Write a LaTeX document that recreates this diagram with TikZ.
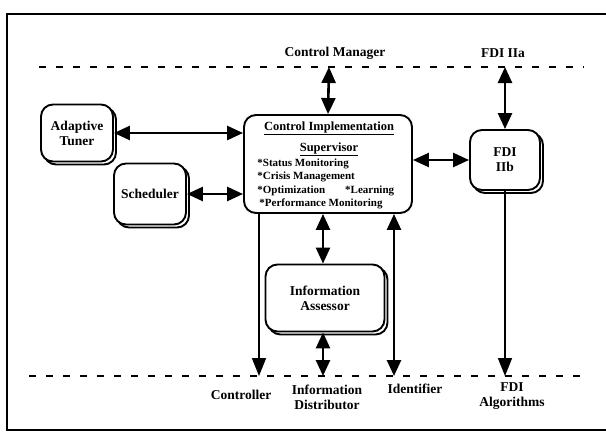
\documentclass[tikz,border=0pt]{standalone}
\usepackage{fontspec}
\setmainfont{Liberation Serif}
\usetikzlibrary{arrows.meta,positioning,shadows}
\begin{document}
\begin{tikzpicture}[x=1pt,y=-1pt,thick,
        font=\fontsize{13.5}{15}\selectfont\bfseries,
        box node/.style={draw,line width=1.9pt,rounded corners=12pt,fill=white,align=center,inner sep=2pt},
        shadow node/.style={box node,copy shadow={shadow xshift=3pt,shadow yshift=-3pt}},
        lab node/.style={align=center,inner sep=1pt},
        both/.style={{Triangle[length=16pt,width=14pt]}-{Triangle[length=16pt,width=14pt]},line width=2.6pt},
        one/.style={-{Triangle[length=18pt,width=14pt]},line width=1.7pt},
        dash line/.style={line width=2.8pt,dash pattern=on 7pt off 10pt}]

    \useasboundingbox (0,0) rectangle (606,434);
    \draw[line width=1.5pt] (606,14) -- (7,14) -- (7,430) -- (606,430);

    % levels
    \draw[dash line] (39,67) -- (584,67);
    \draw[dash line] (29,376) -- (584,376);

    \node[lab node] (cm) at (335,53) {Control Manager};
    \node[lab node] (fdia) at (503,53) {FDI IIa};

    \node[shadow node,minimum width=72pt,minimum height=57pt] (at) at (77,133) {Adaptive\\Tuner};
    \node[shadow node,minimum width=72pt,minimum height=61pt] (sch) at (150,194) {Scheduler};
    \node[box node,minimum width=168pt,minimum height=98pt] (cis) at (328,164) {};
    \node[shadow node,minimum width=70pt,minimum height=60pt] (fdi) at (505,160) {FDI\\IIb};
    \node[shadow node,minimum width=119pt,minimum height=67pt] (ia) at (325,298) {Information\\Assessor};

    % supervisor text
    \node[lab node,font=\fontsize{12.5}{14}\selectfont\bfseries] (cist) at (329,128) {\underline{Control Implementation}};
    \node[lab node,font=\fontsize{12.5}{14}\selectfont\bfseries] (ciss) [below=5pt of cist] {\underline{Supervisor}};
    \node[lab node,align=left,anchor=north west,font=\fontsize{11}{13.5}\selectfont\bfseries] (cisl) at (256,157)
        {*Status Monitoring\\*Crisis Management\\*Optimization\hspace{20pt}*Learning\\\hspace{2pt}*Performance Monitoring};

    \node[lab node] (ctl) at (241,395) {Controller};
    \node[lab node] (inf) at (327,397) {Information\\Distributor};
    \node[lab node] (idf) at (415,389) {Identifier};
    \node[lab node] (alg) at (512,396) {FDI\\Algorithms};

    \coordinate (cmd) at (329,67);
    \coordinate (fdid) at (505,67);
    \coordinate (ctld) at (259,376);
    \coordinate (infd) at (323,376);
    \coordinate (idfd) at (394,376);
    \coordinate (algd) at (505,376);

    \path[both]
    (cmd) edge (cis.north)
    (fdid) edge (fdi.north)
    (at.east) edge (at.east -| cis.west)
    (sch.east) edge (sch.east -| cis.west)
    (cis.east |- fdi.west) edge (fdi.west)
    (cis.south -| infd) edge (ia.north -| infd)
    (ia.south -| infd) edge (infd)
    (cis.south -| idfd) edge (idfd);
    \path[one]
    (cis.south -| ctld) edge (ctld)
    (fdi.south) edge (algd);

\end{tikzpicture}
\end{document}
